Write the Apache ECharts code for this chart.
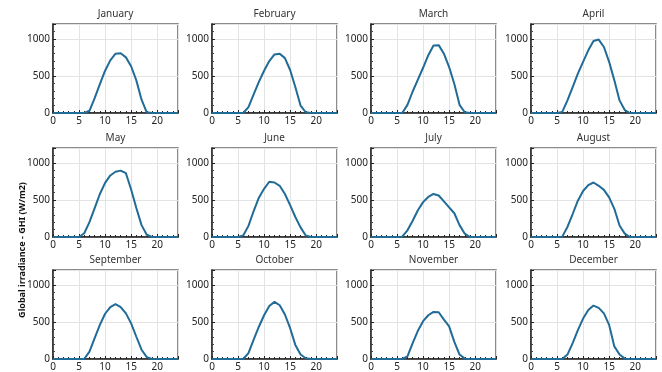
<!DOCTYPE html>
<html>
<head>
<meta charset="utf-8">
<script src="https://cdn.jsdelivr.net/npm/echarts@6/dist/echarts.min.js"></script>
<style>html,body{margin:0;padding:0;background:#fff}#c{width:662px;height:372px}</style>
</head>
<body>
<div id="c"></div>
<script>
const months = ["January","February","March","April","May","June","July","August","September","October","November","December"];
const hours = [0,1,2,3,4,5,6,7,8,9,10,11,12,13,14,15,16,17,18,19,20,21,22,23,24];
const jan = [0,0,0,0,0,0,0,30,200,390,570,710,800,805,750,630,440,180,10,0,0,0,0,0,0];
const feb = [0,0,0,0,0,0,0,80,250,420,570,700,790,800,740,580,350,100,10,0,0,0,0,0,0];
const mar = [0,0,0,0,0,0,0,110,290,450,610,780,910,915,800,620,390,110,10,0,0,0,0,0,0];
const apr = [0,0,0,0,0,0,15,170,350,530,690,845,970,990,890,690,440,170,40,0,0,0,0,0,0];
const may = [0,0,0,0,0,0,50,200,390,580,730,830,880,895,860,640,390,160,30,0,0,0,0,0,0];
const jun = [0,0,0,0,0,0,20,150,350,530,650,745,735,690,580,430,270,130,20,0,0,0,0,0,0];
const jul = [0,0,0,0,0,0,5,90,220,360,470,540,580,560,480,400,320,160,45,0,0,0,0,0,0];
const aug = [0,0,0,0,0,0,5,135,310,490,620,700,735,690,635,535,380,155,45,0,0,0,0,0,0];
const sep = [0,0,0,0,0,0,0,100,280,460,610,700,740,700,615,480,300,125,25,0,0,0,0,0,0];
const oct = [0,0,0,0,0,0,0,80,260,435,590,715,770,725,600,415,190,60,10,0,0,0,0,0,0];
const nov = [0,0,0,0,0,0,0,35,215,380,510,590,635,630,530,440,230,60,5,0,0,0,0,0,0];
const dec = [0,0,0,0,0,0,0,60,215,390,545,660,720,690,615,460,170,60,5,0,0,0,0,0,0];
const monthData = [jan,feb,mar,apr,may,jun,jul,aug,sep,oct,nov,dec];
const yTitle = "Global irradiance - GHI (W/m2)";

const colLefts = [53, 212, 371, 531];
const rowTops = [24, 148, 270];
const W = 125, H = 89;
const font = "'Noto Sans', 'Open Sans', sans-serif";

const grids = [], xAxes = [], yAxes = [], series = [], titles = [];
for (let i = 0; i < 12; i++) {
  const l = colLefts[i % 4], t = rowTops[Math.floor(i / 4)];
  grids.push({left: l, top: t, width: W, height: H, show: true, borderColor: '#666', borderWidth: 1.5, backgroundColor: '#fff'});
  titles.push({text: months[i], left: l + W / 2, top: t - 15, textAlign: 'center', padding: 0,
    textStyle: {fontSize: 10, fontWeight: 'normal', color: '#333', fontFamily: font}});
  xAxes.push({type: 'value', gridIndex: i, min: 0, max: 24, interval: 5,
    axisLine: {show: true, onZero: false, lineStyle: {color: '#222', width: 1.5}},
    axisTick: {show: true, inside: true, length: 3, lineStyle: {color: '#222'}},
    minorTick: {show: true, splitNumber: 5, length: 2, lineStyle: {color: '#222'}},
    axisLabel: {margin: 3, fontSize: 10, color: '#222', fontFamily: font, showMaxLabel: false, formatter: v => String(v)},
    splitLine: {show: true, lineStyle: {color: '#e3e3e3', width: 1}}});
  yAxes.push({type: 'value', gridIndex: i, min: 0, max: 1200, interval: 500,
    axisLine: {show: true, lineStyle: {color: '#222', width: 1.5}},
    axisTick: {show: true, inside: true, length: 3, lineStyle: {color: '#222'}},
    minorTick: {show: true, splitNumber: 5, length: 2, lineStyle: {color: '#444'}},
    axisLabel: {margin: 3, fontSize: 10, color: '#222', fontFamily: font, showMaxLabel: false, formatter: v => String(v)},
    splitLine: {show: true, lineStyle: {color: '#e3e3e3', width: 1}}});
  series.push({type: 'line', xAxisIndex: i, yAxisIndex: i, showSymbol: false, silent: true,
    data: hours.map((h, k) => [h, monthData[i][k]]),
    lineStyle: {color: '#216c97', width: 2}, itemStyle: {color: '#216c97'}});
}

const chart = echarts.init(document.getElementById('c'), null, {renderer: 'canvas'});
chart.setOption({
  animation: false,
  backgroundColor: '#fff',
  title: titles,
  grid: grids,
  xAxis: xAxes,
  yAxis: yAxes,
  series: series,
  graphic: [{type: 'text', x: 22, y: 250, rotation: Math.PI / 2, originX: 0, originY: 0,
    style: {text: yTitle, fontSize: 9, fontWeight: 'bold', fill: '#111', fontFamily: font, align: 'center', verticalAlign: 'middle'}}]
});
</script>
</body>
</html>
